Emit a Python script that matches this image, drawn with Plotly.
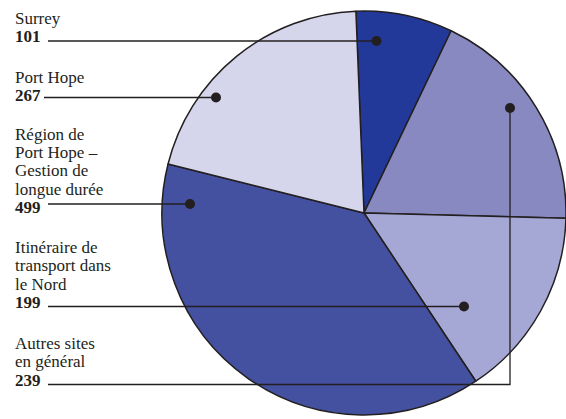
import plotly.graph_objects as go

# ---- data ----
labels = ["Surrey", "Autres sites<br>en général", "Itinéraire de<br>transport dans<br>le Nord",
          "Région de<br>Port Hope –<br>Gestion de<br>longue durée", "Port Hope"]
values = [101, 239, 199, 499, 267]
colors = ["#22399a", "#8789c0", "#a5a7d4", "#4351a0", "#d5d6eb"]

# label layout (pixels): order of callouts on the left, top to bottom
callout_order = [0, 4, 3, 2, 1]
label_top_baseline = [23.3, 82.3, 139.0, 252.3, 348.3]   # baseline of first text line
line_y = [41.0, 97.5, 204.0, 306.5, 384.5]               # leader line y
line_x0 = [48, 44, 48, 48, 48]
dot_xy = [(376.5, 41.0), (216.0, 97.5), (190.0, 204.0), (464.0, 306.5), (510.0, 108.0)]

W, H = 566, 419
LINE_H = 18.3
INK = "#231f20"
FONT = "Liberation Serif"


def px(x):
    return x / W


def py(y):
    return 1 - y / H


fig = go.Figure()
cx, cy, r = 364, 213, 202
fig.add_trace(go.Pie(
    labels=[l.replace("<br>", " ") for l in labels],
    values=values,
    sort=False,
    direction="clockwise",
    rotation=-2.3,
    textinfo="none",
    hoverinfo="label+value",
    marker=dict(colors=colors, line=dict(color=INK, width=1.5)),
    domain=dict(x=[px(cx - r), 1.0], y=[py(cy + r), py(cy - r)]),
))

shapes = []
annotations = []
for k, idx in enumerate(callout_order):
    lines = labels[idx].split("<br>") + ["<b>%d</b>" % values[idx]]
    for j, t in enumerate(lines):
        base = label_top_baseline[k] + j * LINE_H
        annotations.append(dict(
            x=px(13), y=py(base - 4.8), xref="paper", yref="paper",
            xanchor="left", yanchor="middle", text=t, showarrow=False,
            font=dict(family=FONT, size=17, color=INK),
        ))
    dx, dy = dot_xy[k]
    if abs(dy - line_y[k]) < 1:
        shapes.append(dict(type="line", xref="paper", yref="paper",
                           x0=px(line_x0[k]), y0=py(line_y[k]), x1=px(dx), y1=py(dy),
                           line=dict(color=INK, width=1.3), layer="above"))
    else:
        shapes.append(dict(type="path", xref="paper", yref="paper",
                           path="M %f %f L %f %f L %f %f" % (
                               px(line_x0[k]), py(line_y[k]), px(dx), py(line_y[k]), px(dx), py(dy)),
                           line=dict(color=INK, width=1.3), layer="above"))
    shapes.append(dict(type="circle", xref="paper", yref="paper",
                       x0=px(dx - 5), x1=px(dx + 5), y0=py(dy + 5), y1=py(dy - 5),
                       fillcolor=INK, line=dict(color=INK, width=0), layer="above"))

fig.update_layout(
    width=W, height=H,
    margin=dict(l=0, r=0, t=0, b=0),
    showlegend=False,
    paper_bgcolor="white",
    plot_bgcolor="white",
    font=dict(family=FONT),
    shapes=shapes,
    annotations=annotations,
)

fig.write_html("out.html")
